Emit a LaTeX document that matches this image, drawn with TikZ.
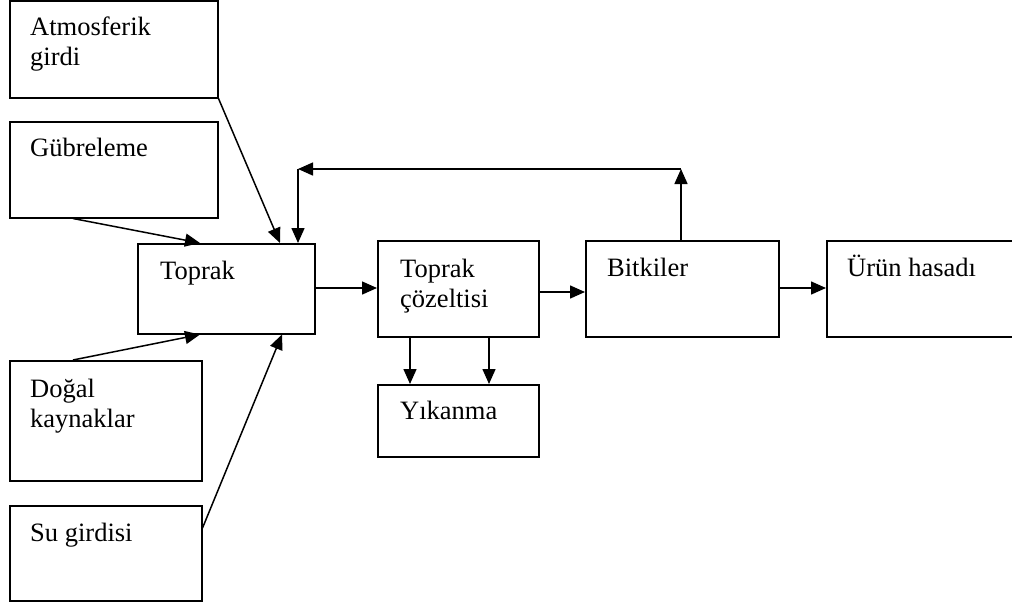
\documentclass[tikz,border=0pt]{standalone}
\usepackage{fontspec}
\setmainfont{Liberation Serif}
\usetikzlibrary{arrows.meta,positioning}

\tikzset{
  box/.style={draw, line width=1.5pt, rectangle, minimum width=#1, anchor=north west, inner sep=0pt},
  txt/.style={anchor=base west, inner sep=0pt, align=left, font=\fontsize{26.5}{30}\selectfont},
  arr/.style={line width=1.5pt, -{Triangle[length=15pt,width=13pt]}},
}

\begin{document}
\begin{tikzpicture}[x=1pt, y=-1pt]
      \useasboundingbox (0,0) rectangle (1012,606);
      % inputs
      \node[box=208, minimum height=97](atm) at (9,0){};
      \node[txt](atmt) at (30,65){Atmosferik\\girdi};
      \node[box=208, minimum height=96](gub) at (9,121){};
      \node[txt](gubt) at (30,156){Gübreleme};
      \node[box=192, minimum height=120](dog) at (9,360){};
      \node[txt](dogt) at (30,427){Doğal\\kaynaklar};
      \node[box=192, minimum height=95](su) at (9,505){};
      \node[txt](sut) at (30,541){Su girdisi};
      % soil
      \node[box=177, minimum height=90](toprak) at (137,243){};
      \node[txt](toprakt) at (160,279){Toprak};
      \node[box=161, minimum height=96](coz) at (377,240){};
      \node[txt](cozt) at (400,307){Toprak\\çözeltisi};
      \node[box=161, minimum height=72](yik) at (377,384){};
      \node[txt](yikt) at (400,419){Yıkanma};
      % plants
      \node[box=193, minimum height=96](bitki) at (585,240){};
      \node[txt](bitkit) at (607,276){Bitkiler};
      \node[box=200, minimum height=96](urun) at (826,240){};
      \node[txt](urunt) at (847,276){Ürün hasadı};
      % arrows into Toprak
      \draw[arr] (atm.south east) -- ([xshift=143pt]toprak.north west);
      \draw[arr] ([xshift=64pt]gub.south west) -- ([xshift=63pt]toprak.north west);
      \draw[arr] ([xshift=64pt]dog.north west) -- ([xshift=63pt]toprak.south west);
      \draw[arr] ([yshift=-23pt]su.north east) -- ([xshift=145pt]toprak.south west);
      % main chain
      \draw[arr] ([yshift=-45pt]toprak.north east) -- ([yshift=-48pt]coz.north west);
      \draw[arr] ([yshift=-52pt]coz.north east) -- ([yshift=-52pt]bitki.north west);
      \draw[arr] ([yshift=-48pt]bitki.north east) -- ([yshift=-48pt]urun.north west);
      \draw[arr] ([xshift=33pt]coz.south west) -- ([xshift=33pt]yik.north west);
      \draw[arr] ([xshift=112pt]coz.south west) -- ([xshift=112pt]yik.north west);
      % feedback
      \coordinate (fbr) at (681,169);
      \coordinate (fbl) at (298,169);
      \draw[arr] ([xshift=96pt]bitki.north west) -- (fbr);
      \draw[arr] (fbr) -- (fbl);
      \draw[arr] (fbl) -- ([xshift=161pt]toprak.north west);
\end{tikzpicture}
\end{document}
